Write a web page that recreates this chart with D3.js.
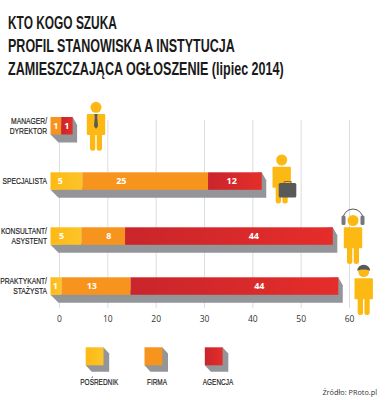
<!DOCTYPE html>
<html>
<head>
<meta charset="utf-8">
<script src="https://cdn.jsdelivr.net/npm/d3@7"></script>
<style>
html, body { margin: 0; padding: 0; background: #fff; }
svg { display: block; }
text { font-family: "Liberation Sans", sans-serif; }
</style>
</head>
<body>
<script>
var w = 385;
var h = 400;

var titleLines = ["KTO KOGO SZUKA", "PROFIL STANOWISKA A INSTYTUCJA", "ZAMIESZCZAJĄCA OGŁOSZENIE (lipiec 2014)"];
var categories = ["MANAGER/ DYREKTOR", "SPECJALISTA", "KONSULTANT/ ASYSTENT", "PRAKTYKANT/ STAŻYSTA"];
var seriesNames = ["POŚREDNIK", "FIRMA", "AGENCJA"];
var tickValues = [0, 10, 20, 30, 40, 50, 60];
var source = "Źródło: PRoto.pl";

// values printed on the bars
var posrednik = [0, 5, 5, 1];
var firma = [1, 25, 8, 13];
var agencja = [1, 12, 44, 44];

// the source does not draw its bars quite to scale, so the lengths are read off the picture
var posrednikLength = [0, 6.4, 6.2, 2.2];
var firmaLength = [2.15, 25.3, 8.8, 13.9];
var agencjaLength = [2.3, 10.8, 41.8, 41.8];

var values = [posrednik, firma, agencja];
var lengths = [posrednikLength, firmaLength, agencjaLength];

var x = d3.scaleLinear().domain([0, 60]).range([59, 349]);
// bars start left of the axis zero in the original
var barX = d3.scaleLinear().domain([0, 60]).range([50.5, 348.7]);
var rowY = d3.scaleOrdinal().domain(categories).range([117, 172.3, 227.3, 277.3]);
var barH = 17.5;
var shadowDown = 8;
var shadowRight = 4.5;

var yellow = "#fdb913";
var grey = "#939598";
var dark = "#58595b";

// where the number sits inside each segment, as a share of its length
var labelAt = [
    [0, 0.31, 0.36, 0.45],
    [0.5, 0.31, 0.63, 0.44],
    [0.5, 0.44, 0.62, 0.62]
];

// no condensed face is installed, so the title is squeezed to the widths of the original
var titleWidths = [109, 227, 276];

var svg = d3.select("body")
    .append("svg")
    .attr("width", w)
    .attr("height", h);

var defs = svg.append("defs");
function gradient(id, from, to) {
    var g = defs.append("linearGradient").attr("id", id);
    g.append("stop").attr("offset", "0%").attr("stop-color", from);
    g.append("stop").attr("offset", "100%").attr("stop-color", to);
}
gradient("g0", "#fdb913", "#fcc42a");
gradient("g1", "#f7941e", "#f7941e");
gradient("g2", "#c9252b", "#e52d2a");
var fills = ["url(#g0)", "url(#g1)", "url(#g2)"];

function at(px, py, k) {
    return "translate(" + px + "," + py + ") scale(" + k + ",1)";
}

svg.selectAll(".title")
    .data(titleLines)
    .enter()
    .append("text")
    .attr("class", "title")
    .attr("font-size", 18.5)
    .attr("font-weight", "bold")
    .attr("fill", "#1a1a1a")
    .text(function(d) { return d; })
    .attr("transform", function(d, i) {
        return at(8, 29 + i * 23, titleWidths[i] / this.getComputedTextLength());
    });

var axis = d3.axisBottom(x)
    .tickValues(tickValues)
    .tickSize(-188)
    .tickPadding(8);

var axisG = svg.append("g")
    .attr("transform", "translate(0,308)")
    .call(axis);
axisG.select(".domain").remove();
axisG.selectAll(".tick line").attr("stroke", "#dcdddf").attr("stroke-width", 1);
axisG.selectAll(".tick text")
    .style("font-family", "'Open Sans', sans-serif")
    .attr("font-size", 8.5)
    .attr("fill", "#333");

var rows = svg.selectAll(".row")
    .data(categories)
    .enter()
    .append("g")
    .attr("class", "row");

rows.each(function(cat, r) {
    var row = d3.select(this);
    var top = rowY(cat);
    var bottom = top + barH;
    var edges = [0];
    lengths.forEach(function(s) { edges.push(edges[edges.length - 1] + s[r]); });
    var left = barX(0);
    var right = barX(edges[3]);

    row.append("path")
        .attr("fill", grey)
        .attr("d", d3.line()([
            [left, bottom],
            [left + shadowDown, bottom + shadowDown],
            [right + shadowRight, bottom + shadowDown],
            [right + shadowRight, top + shadowDown],
            [right, top]
        ]) + "Z");

    values.forEach(function(s, k) {
        if (!s[r]) return;
        var x0 = barX(edges[k]);
        var x1 = barX(edges[k + 1]);
        row.append("rect")
            .attr("x", x0)
            .attr("y", top)
            .attr("width", x1 - x0)
            .attr("height", barH)
            .attr("fill", fills[k]);
        row.append("text")
            .attr("x", x0 + (x1 - x0) * labelAt[k][r])
            .attr("y", top + barH / 2 + 3)
            .attr("text-anchor", "middle")
            .attr("font-size", 9)
            .attr("font-weight", "bold")
            .style("font-family", "'Open Sans', sans-serif")
            .attr("fill", "#fff")
            .text(s[r]);
    });

    var parts = cat.split(" ");
    row.selectAll(".cat")
        .data(parts)
        .enter()
        .append("text")
        .attr("class", "cat")
        .attr("transform", function(d, i) {
            return at(47, top + barH / 2 + 3 + (i - (parts.length - 1) / 2) * 10, 0.71);
        })
        .attr("text-anchor", "end")
        .attr("font-size", 9.5)
        .attr("fill", "#222")
        .attr("stroke", "#222")
        .attr("stroke-width", 0.2)
        .text(function(d) { return d; });
});

// people next to the bars
function person(cx, headY) {
    var g = svg.append("g").attr("fill", yellow).attr("transform", "translate(" + cx + "," + headY + ")");
    g.append("circle").attr("r", 5.5);
    g.append("rect").attr("x", -9.2).attr("y", 6.8).attr("width", 18.4).attr("height", 21).attr("rx", 1);
    g.append("rect").attr("x", -6).attr("y", 20).attr("width", 5.3).attr("height", 23.5).attr("rx", 2.5);
    g.append("rect").attr("x", 0.7).attr("y", 20).attr("width", 5.3).attr("height", 23.5).attr("rx", 2.5);
    return g;
}

var manager = person(96, 107.3);
manager.append("path")
    .attr("fill", dark)
    .attr("d", "M-1.6,6.8H1.6L1.2,9.5L2,19L0,21.5L-2,19L-1.2,9.5Z");

var specialist = person(281.7, 160);
specialist.append("path")
    .attr("fill", "none")
    .attr("stroke", "#8a6d2a")
    .attr("stroke-width", 1)
    .attr("d", "M2.5,23V21.5H9.5V23");
specialist.append("rect")
    .attr("x", -3)
    .attr("y", 23)
    .attr("width", 17.6)
    .attr("height", 14.5)
    .attr("rx", 1.5)
    .attr("fill", dark);

var consultant = person(353, 220.5);
consultant.append("path")
    .attr("fill", "none")
    .attr("stroke", dark)
    .attr("stroke-width", 1)
    .attr("d", "M-10.5,0A10.5,11.5 0 0 1 10.5,0");
consultant.append("rect").attr("x", -11.5).attr("y", -5).attr("width", 4).attr("height", 9.5).attr("rx", 1.5).attr("fill", "#77787b");
consultant.append("rect").attr("x", 7.5).attr("y", -5).attr("width", 4).attr("height", 9.5).attr("rx", 1.5).attr("fill", "#77787b");

var intern = person(363.7, 271.5);
intern.append("path")
    .attr("fill", dark)
    .attr("d", "M-6.5,-0.8A6.5,6 0 0 1 6.5,-0.8Q0,-3 -6.5,-0.8Z");

// legend
var legendX = d3.scaleOrdinal().domain(seriesNames).range([85.7, 144.5, 204.8]);
var labelX = d3.scaleOrdinal().domain(seriesNames).range([99.3, 157, 218]);
var legend = svg.selectAll(".legend")
    .data(seriesNames)
    .enter()
    .append("g")
    .attr("class", "legend");

legend.append("path")
    .attr("fill", grey)
    .attr("d", function(d) {
        var l = legendX(d);
        return d3.line()([
            [l, 365.3],
            [l + 6, 371.7],
            [l + 23.5, 371.7],
            [l + 23.5, 353.5],
            [l + 17.7, 347.3]
        ]) + "Z";
    });
legend.append("rect")
    .attr("x", function(d) { return legendX(d); })
    .attr("y", 347.3)
    .attr("width", 17.8)
    .attr("height", 18)
    .attr("fill", function(d, i) { return fills[i]; });
legend.append("text")
    .attr("transform", function(d) { return at(labelX(d), 385, 0.68); })
    .attr("text-anchor", "middle")
    .attr("font-size", 9.5)
    .attr("fill", "#222")
    .attr("stroke", "#222")
    .attr("stroke-width", 0.2)
    .text(function(d) { return d; });

svg.append("text")
    .attr("x", 377)
    .attr("y", 395)
    .attr("text-anchor", "end")
    .attr("font-size", 7.3)
    .style("font-family", "'Open Sans', sans-serif")
    .attr("fill", "#333")
    .text(source);
</script>
</body>
</html>
